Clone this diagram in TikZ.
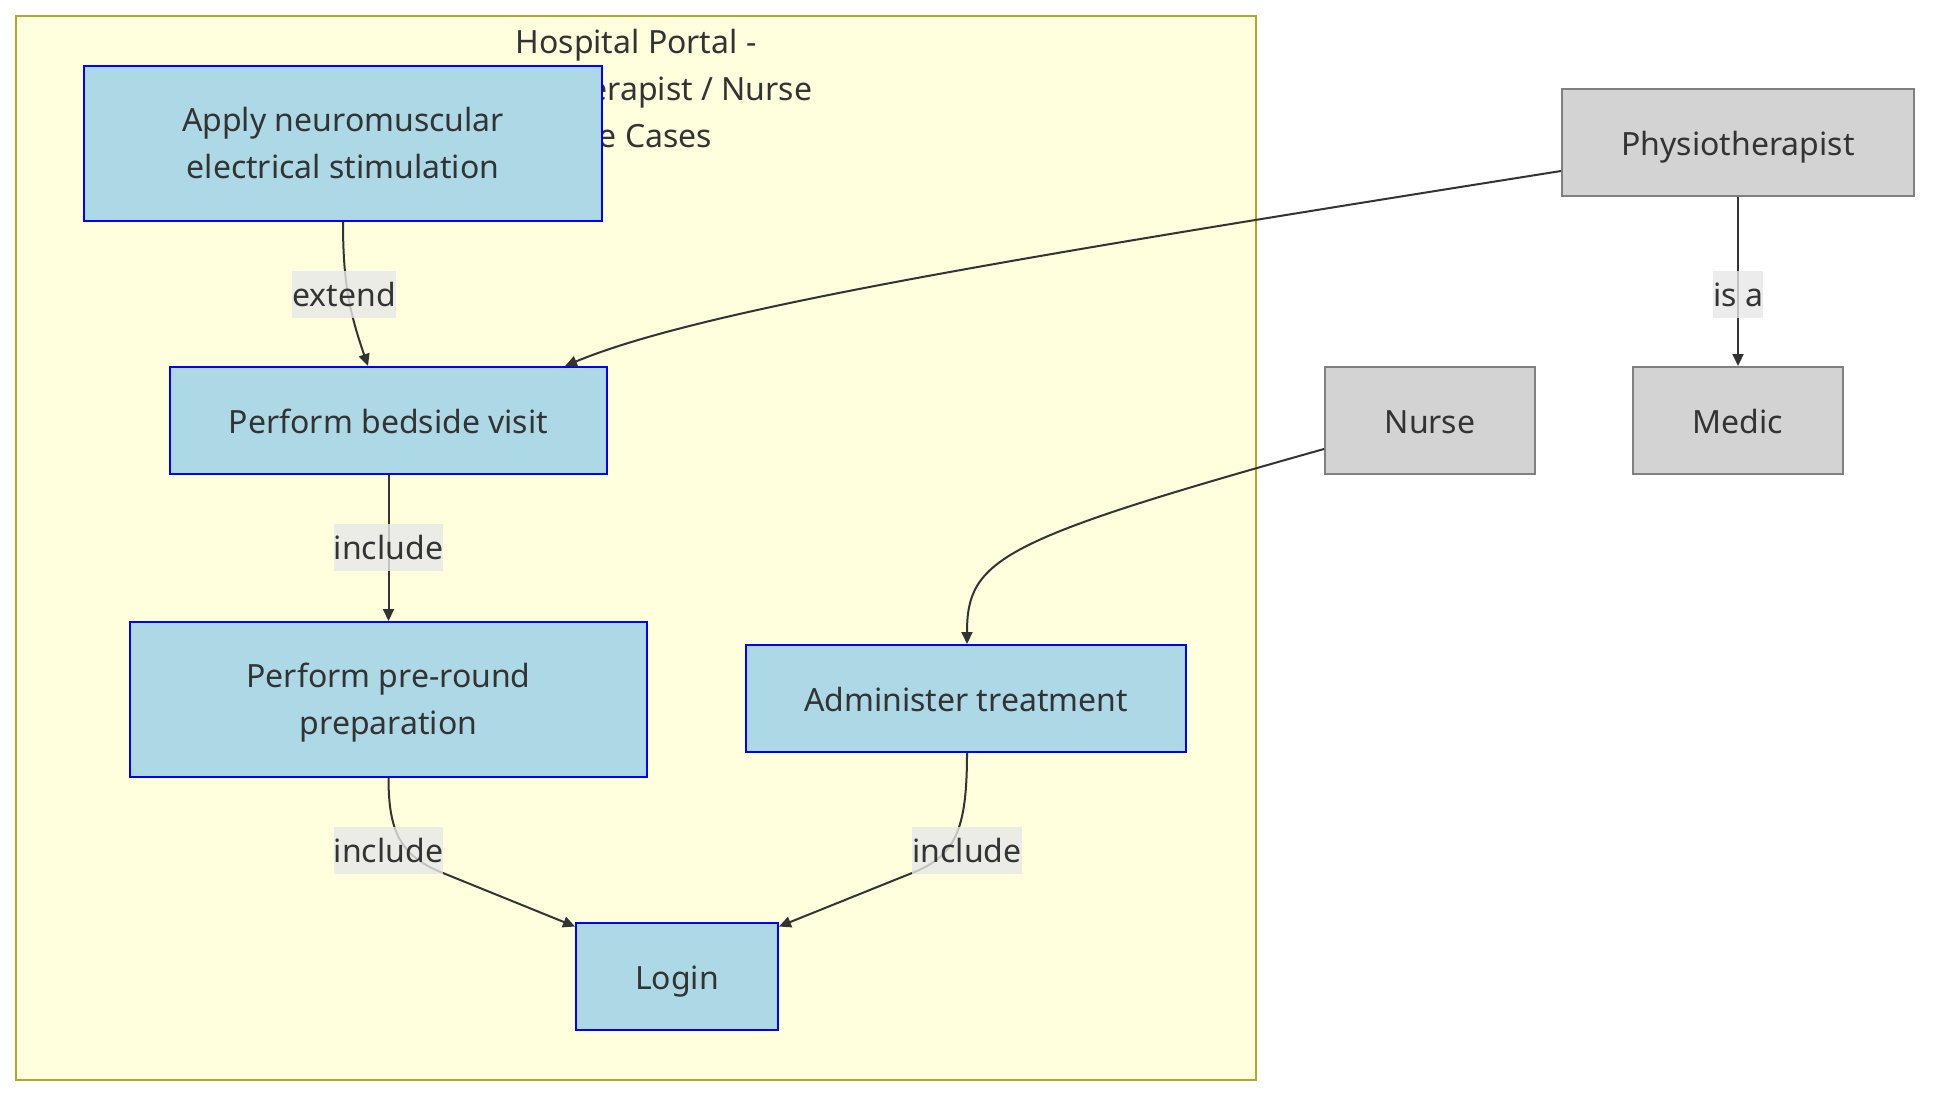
\documentclass[tikz,border=0pt]{standalone}
\usepackage{fontspec}
\setmainfont{Noto Sans}
\usetikzlibrary{arrows.meta,calc}
\definecolor{txt}{HTML}{333333}
\definecolor{ucfill}{HTML}{ADD8E6}
\definecolor{ucdraw}{HTML}{0000FF}
\definecolor{acfill}{HTML}{D3D3D3}
\definecolor{acdraw}{HTML}{808080}
\definecolor{clfill}{HTML}{FFFFDE}
\definecolor{cldraw}{HTML}{AAAA33}
\definecolor{lblfill}{HTML}{E8E8E8}
\newcommand\firstlinestrut{\rule{0pt}{15pt}}
\newcommand\lastlinestrut{\rule[-4pt]{0pt}{4pt}}
\begin{document}
\begin{tikzpicture}[x=0.5pt,y=-0.5pt,
  every node/.style={font=\fontsize{16pt}{23.5pt}\selectfont, text=txt},
  oneline/.style={text height=12.5pt, text depth=0pt},
  usecase/.style={draw=ucdraw, fill=ucfill, line width=1pt, align=center, inner sep=0pt},
  actor/.style={draw=acdraw, fill=acfill, line width=1pt, align=center, inner sep=0pt, minimum height=53.5pt, oneline},
  elabel/.style={fill=lblfill, fill opacity=0.8, text opacity=1, inner xsep=0pt, inner ysep=0pt, minimum height=23.5pt, oneline},
  conn/.style={draw=txt, line width=1pt, -{Triangle[length=6pt,width=5.5pt]}}
]
\useasboundingbox (0,0) rectangle (1946,1104);
\fill[white] (0,0) rectangle (1946,1104);
% cluster
\draw[fill=clfill, draw=cldraw, line width=1pt] (16,16) rectangle (1256,1080);
\node[align=center] (title) at (636,88) {Hospital Portal -\\Physiotherapist / Nurse\\Use Cases};

% nodes
\node[usecase, minimum width=259pt, minimum height=77.5pt] (nmes) at (343,143.5) {\firstlinestrut Apply neuromuscular\\electrical stimulation\lastlinestrut};
\node[usecase, oneline, minimum width=218.5pt, minimum height=53.5pt] (bed) at (388.5,420.5) {Perform bedside visit};
\node[usecase, minimum width=258.5pt, minimum height=77.5pt] (pre) at (388.5,699.5) {\firstlinestrut Perform pre-round\\preparation\lastlinestrut};
\node[usecase, oneline, minimum width=220pt, minimum height=53.5pt] (adm) at (966,698.5) {Administer treatment};
\node[usecase, oneline, minimum width=101pt, minimum height=53.5pt] (login) at (677,976.5) {Login};
\node[actor, minimum width=176pt] (phys) at (1738,142.5) {Physiotherapist};
\node[actor, minimum width=105pt] (nurse) at (1430,420.5) {Nurse};
\node[actor, minimum width=105pt] (medic) at (1738,420.5) {Medic};

% edges
\draw[conn] (nmes.south) .. controls ($(nmes.south)+(0,59)$) and ($(nmes.south)+(6,89)$) .. ($(bed.north)+(-20.5,0)$);
\draw[conn] ($(phys.west)+(0,28.5)$) .. controls (1000,260) and (700,310) .. ($(bed.north)+(176.5,0)$);
\draw[conn] (bed.south) -- (pre.north);
\draw[conn] ($(nurse.west)+(0,28.5)$) .. controls (1000,540) and ($(adm.north)+(1,-85)$) .. ($(adm.north)+(1,0)$);
\draw[conn] (pre.south) .. controls ($(pre.south)+(0,53)$) and ($(pre.south)+(11.5,78)$) .. ($(pre.south)+(54.5,95)$) -- ($(login.north west)+(0,4.5)$);
\draw[conn] ($(adm.south)+(1,0)$) .. controls ($(adm.south)+(1,78)$) and ($(adm.south)+(-11,103)$) .. ($(adm.south)+(-54,120)$) -- ($(login.north east)+(0,4.5)$);
\draw[conn] (phys.south) -- (medic.north);

% labels
\node[elabel] (l1) at (344,294) {extend};
\node[elabel] (l2) at (388.5,547) {include};
\node[elabel] (l3) at (388.5,850) {include};
\node[elabel] (l4) at (967,850) {include};
\node[elabel] (l5) at (1738,294) {is a};
\end{tikzpicture}
\end{document}
